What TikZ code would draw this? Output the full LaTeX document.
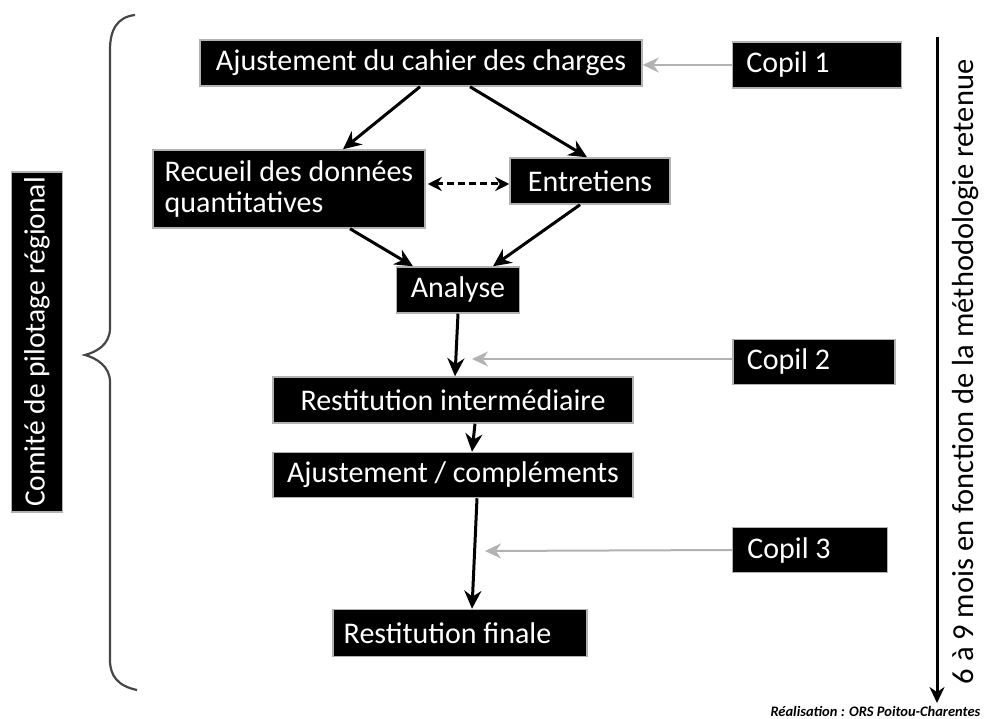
\documentclass[tikz,border=0pt]{standalone}
\usepackage{fontspec}
\setmainfont{Carlito}
\usetikzlibrary{arrows.meta,calc}
\begin{document}
\begin{tikzpicture}[x=1pt,y=-1pt,
  box/.style={fill=black, draw=gray!60, line width=1.5pt, text=white,
    font=\fontsize{30}{31}\selectfont, inner sep=0pt, align=center},
  arr/.style={line width=3pt, -{Stealth[length=18pt,width=17pt]}},
  dasharr/.style={line width=3pt, dash pattern=on 7pt off 4pt, {Stealth[length=14pt,width=14pt]}-{Stealth[length=14pt,width=14pt]}},
  garr/.style={line width=2pt, draw=gray!60, -{Stealth[length=16pt,width=15pt]}},
  brace/.style={draw=gray!55!black, line width=2.2pt}]
\useasboundingbox (0,0) rectangle (985,719);
\node[box, minimum width=442, minimum height=46] (ajust) at (421,63) {Ajustement du cahier des charges};
\node[box, minimum width=169, minimum height=46] (copil1) at (817,65) {Copil 1\hspace{58pt}};
\node[box, minimum width=272, minimum height=78, align=left] (recueil) at (289,189) {Recueil des données\\quantitatives};
\node[box, minimum width=160, minimum height=46] (entretiens) at (590,181) {Entretiens};
\node[box, minimum width=123, minimum height=46] (analyse) at (458,290) {Analyse};
\node[box, minimum width=162, minimum height=45] (copil2) at (814,362) {Copil 2\hspace{51pt}};
\node[box, minimum width=360, minimum height=46] (restinter) at (453,400) {Restitution intermédiaire};
\node[box, minimum width=360, minimum height=45] (ajustcomp) at (453,475) {Ajustement / compléments};
\node[box, minimum width=155, minimum height=45] (copil3) at (810,550) {Copil 3\hspace{42pt}};
\node[box, minimum width=254, minimum height=47] (restfin) at (460,633) {Restitution finale\hspace{25pt}};
\node[box, minimum width=340, minimum height=51, rotate=90, font=\fontsize{29.5}{31}\selectfont] (comite) at (37,342) {Comité de pilotage régional};
% brace
\draw[brace] (135,15) .. controls (117,17) and (110,30) .. (110,50) -- (110,328) .. controls (110,345) and (96,352) .. (85,355) .. controls (96,358) and (110,366) .. (110,382) -- (110,660) .. controls (110,676) and (118,686) .. (137,690);
% flow arrows
\draw[arr] ($(ajust.south)+(-1,0)$) -- ($(recueil.north)+(54,0)$);
\draw[arr] ($(ajust.south)+(49,0)$) -- ($(entretiens.north)+(-3,0)$);
\draw[dasharr] ($(recueil.east)+(2,-5)$) -- ($(entretiens.west)+(0,3)$);
\draw[arr] ($(recueil.south)+(61,0)$) -- ($(analyse.north)+(-45,0)$);
\draw[arr] ($(entretiens.south)+(-10,0)$) -- ($(analyse.north)+(35,0)$);
\draw[arr] (analyse.south) -- ($(restinter.north)+(2,0)$);
\draw[arr] ($(restinter.south)+(22,0)$) -- ($(ajustcomp.north)+(19,0)$);
\draw[arr] ($(ajustcomp.south)+(24,0)$) -- ($(restfin.north)+(12,0)$);
% copil arrows
\coordinate (c2end) at (472,359);
\coordinate (c3end) at (485,551);
\draw[garr] (copil1.west) -- (ajust.east |- copil1.west);
\draw[garr] ($(copil2.west)+(0,-3)$) -- (c2end);
\draw[garr] (copil3.west) -- (c3end);
% time arrow
\coordinate (tA) at (937,37);
\coordinate (tB) at (937,703);
\draw[line width=3pt, -{Stealth[length=16pt,width=15pt]}] (tA) -- (tB);
\node[rotate=90, font=\fontsize{30.5}{32}\selectfont] (duree) at (966,372) {6 à 9 mois en fonction de la méthodologie retenue};
\node[anchor=east, font=\fontsize{14.5}{17}\selectfont\bfseries\itshape] (real) at (984,711) {Réalisation : ORS Poitou-Charentes};
\end{tikzpicture}
\end{document}
